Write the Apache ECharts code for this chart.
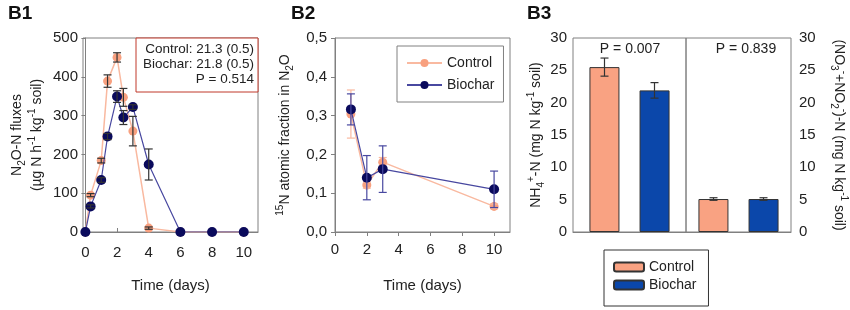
<!DOCTYPE html>
<html>
<head>
<meta charset="utf-8">
<script src="https://cdn.jsdelivr.net/npm/echarts@6/dist/echarts.min.js"></script>
<style>
  html, body { margin: 0; padding: 0; background: #fff; }
  #chart { width: 850px; height: 310px; }
</style>
</head>
<body>
<div id="chart"></div>
<script>
// B1: N2O-N fluxes over time
var fluxDays = [0, 0.33, 1, 1.4, 2, 2.4, 3, 4, 6, 8, 10];
var fluxControl = [0, 95, 184, 389, 450, 347, 260, 10, 0, 0, 0];
var fluxControlErr = [0, 4, 6, 16, 12, 23, 38, 3, 0, 0, 0];
var fluxBiochar = [0, 66, 134, 246, 349, 295, 322, 174, 0, 0, 0];
var fluxBiocharErr = [0, 4, 6, 8, 15, 18, 6, 40, 0, 0, 0];

// B2: 15N atomic fraction
var fracDays = [1, 2, 3, 10];
var fracControl = [0.304, 0.121, 0.180, 0.066];
var fracControlErr = [0.062, 0.008, 0.012, 0.006];
var fracBiochar = [0.316, 0.140, 0.162, 0.110];
var fracBiocharErr = [0.040, 0.057, 0.060, 0.047];

// B3: mineral N
var nh4 = { control: 25.5, biochar: 21.9 };
var nh4Err = { control: 1.4, biochar: 1.2 };
var no3 = { control: 5.1, biochar: 5.1 };
var no3Err = { control: 0.2, biochar: 0.2 };

var timeTicks = [0, 2, 4, 6, 8, 10];
var statsLines = ['Control: 21.3 (0.5)', 'Biochar: 21.8 (0.5)', 'P = 0.514'];

var FONT = 'Liberation Sans, Arial, sans-serif';
var ORANGE = '#F8A07F', ORANGE_LINE = '#F9B9A0';
var NAVY = '#0A0A5C', NAVY_LINE = '#4848A0';
var BAR_ORANGE = '#F9A282', BAR_BLUE = '#0B47AA';
var GRAY = '#808080';
var BAR_W = 30, BAR_GAP = 20;

var chart = echarts.init(document.getElementById('chart'));

function errData(xs, ys, es) {
  var out = [];
  xs.forEach(function (x, i) {
    if (es[i] > 0) out.push([x, ys[i] - es[i], ys[i] + es[i]]);
  });
  return out;
}

// error bar drawer, offset in px for grouped bars
function errBar(color, offset) {
  return function (params, api) {
    var x = api.value(0);
    var top = api.coord([x, api.value(2)]);
    var bot = api.coord([x, api.value(1)]);
    var cx = top[0] + (offset || 0);
    var st = { stroke: color, lineWidth: 1.2 };
    return {
      type: 'group',
      children: [
        { type: 'line', shape: { x1: cx, y1: top[1], x2: cx, y2: bot[1] }, style: st },
        { type: 'line', shape: { x1: cx - 4, y1: top[1], x2: cx + 4, y2: top[1] }, style: st },
        { type: 'line', shape: { x1: cx - 4, y1: bot[1], x2: cx + 4, y2: bot[1] }, style: st }
      ]
    };
  };
}

var labelStyle = { color: '#222', fontSize: 15, fontFamily: FONT };
var richSubSup = {
  sub: { fontSize: 10, lineHeight: 10, verticalAlign: 'bottom', fontFamily: FONT, color: '#222' },
  sup: { fontSize: 10, lineHeight: 10, verticalAlign: 'top', fontFamily: FONT, color: '#222' }
};
function nameStyle(size, lh) {
  return { color: '#222', fontSize: size, lineHeight: lh, fontFamily: FONT, rich: richSubSup };
}
var axisLine = { lineStyle: { color: GRAY } };

var grids = [
  { left: 83, top: 38, width: 175, height: 194 },
  { left: 335, top: 38, width: 175, height: 194 },
  { left: 573, top: 38, width: 113, height: 194 },
  { left: 686, top: 38, width: 109, height: 194 }
].map(function (g) {
  return Object.assign({ show: true, borderColor: GRAY, borderWidth: 1, backgroundColor: 'transparent' }, g);
});

var offset = (BAR_W + BAR_GAP) / 2;
var barGapPct = Math.round(BAR_GAP / BAR_W * 100) + '%';

var option = {
  animation: false,
  textStyle: { fontFamily: FONT },
  grid: grids,
  xAxis: [
    {
      gridIndex: 0, type: 'value', min: -0.15, max: 10.9,
      name: 'Time (days)', nameLocation: 'middle', nameGap: 45, nameTextStyle: nameStyle(15, 18),
      axisLine: axisLine, splitLine: { show: false },
      axisTick: { inside: true, length: 4, lineStyle: { color: GRAY }, customValues: timeTicks },
      axisLabel: Object.assign({ margin: 13, customValues: timeTicks }, labelStyle)
    },
    {
      gridIndex: 1, type: 'value', min: 0, max: 11,
      name: 'Time (days)', nameLocation: 'middle', nameGap: 45, nameTextStyle: nameStyle(15, 18),
      axisLine: axisLine, splitLine: { show: false },
      axisTick: { length: 4, lineStyle: { color: GRAY }, customValues: timeTicks },
      axisLabel: Object.assign({ margin: 10, customValues: timeTicks }, labelStyle)
    },
    { gridIndex: 2, type: 'category', data: ['NH4'], axisLine: axisLine, axisTick: { show: false }, axisLabel: { show: false } },
    { gridIndex: 3, type: 'category', data: ['NO3'], axisLine: axisLine, axisTick: { show: false }, axisLabel: { show: false } }
  ],
  yAxis: [
    {
      gridIndex: 0, type: 'value', min: 0, max: 500, interval: 100,
      name: 'N{sub|2}O-N fluxes\n(µg N h{sup|-1} kg{sup|-1} soil)',
      nameLocation: 'middle', nameGap: 36, nameTextStyle: nameStyle(14, 20),
      axisLine: axisLine, splitLine: { show: false },
      axisTick: { length: 4, lineStyle: { color: GRAY } },
      axisLabel: Object.assign({ margin: 5 }, labelStyle)
    },
    {
      gridIndex: 1, type: 'value', min: 0, max: 0.5, interval: 0.1,
      name: '{sup|15}N atomic fraction in N{sub|2}O',
      nameLocation: 'middle', nameGap: 40, nameTextStyle: nameStyle(14, 20),
      axisLine: axisLine, splitLine: { show: false },
      axisTick: { length: 4, lineStyle: { color: GRAY } },
      axisLabel: Object.assign({
        margin: 8,
        formatter: function (v) { return v.toFixed(1).replace('.', ','); }
      }, labelStyle)
    },
    {
      gridIndex: 2, type: 'value', min: 0, max: 30, interval: 5,
      name: 'NH{sub|4}{sup|+}-N (mg N kg{sup|-1} soil)',
      nameLocation: 'middle', nameGap: 22, nameTextStyle: nameStyle(14, 20),
      axisLine: axisLine, splitLine: { show: false },
      axisTick: { length: 4, lineStyle: { color: GRAY } },
      axisLabel: Object.assign({ margin: 6 }, labelStyle)
    },
    {
      gridIndex: 3, type: 'value', min: 0, max: 30, interval: 5, position: 'right',
      name: '(NO{sub|3}{sup|-}+NO{sub|2}{sup|-})-N (mg N kg{sup|-1} soil)',
      nameLocation: 'middle', nameGap: 38, nameRotate: -90, nameTextStyle: nameStyle(14, 20),
      axisLine: axisLine, splitLine: { show: false },
      axisTick: { length: 4, lineStyle: { color: GRAY } },
      axisLabel: Object.assign({ margin: 8 }, labelStyle)
    }
  ],
  legend: [
    {
      data: ['Control', 'Biochar'],
      orient: 'vertical', left: 397, top: 46,
      padding: [10, 9], itemGap: 8, itemWidth: 35, itemHeight: 10,
      borderColor: GRAY, borderWidth: 1,
      textStyle: { fontSize: 14, color: '#222', fontFamily: FONT }
    },
    {
      data: ['Control bars', 'Biochar bars'],
      formatter: function (n) { return n.split(' ')[0]; },
      orient: 'vertical', left: 604, top: 250,
      padding: [10, 12, 14, 9], itemGap: 4, itemWidth: 30, itemHeight: 9,
      borderColor: '#333', borderWidth: 1,
      textStyle: { fontSize: 14, color: '#222', fontFamily: FONT }
    }
  ],
  series: [
    // B1
    {
      name: 'Control', type: 'line', xAxisIndex: 0, yAxisIndex: 0,
      data: fluxDays.map(function (d, i) { return [d, fluxControl[i]]; }),
      symbol: 'circle', symbolSize: 9,
      lineStyle: { color: ORANGE_LINE, width: 1.5 }, itemStyle: { color: ORANGE }, z: 3
    },
    {
      name: 'Biochar', type: 'line', xAxisIndex: 0, yAxisIndex: 0,
      data: fluxDays.map(function (d, i) { return [d, fluxBiochar[i]]; }),
      symbol: 'circle', symbolSize: 10,
      lineStyle: { color: NAVY_LINE, width: 1.2 }, itemStyle: { color: NAVY }, z: 4
    },
    {
      type: 'custom', xAxisIndex: 0, yAxisIndex: 0, z: 6,
      renderItem: errBar('#333'), data: errData(fluxDays, fluxControl, fluxControlErr),
      encode: { x: 0, y: [1, 2] }
    },
    {
      type: 'custom', xAxisIndex: 0, yAxisIndex: 0, z: 6,
      renderItem: errBar('#333'), data: errData(fluxDays, fluxBiochar, fluxBiocharErr),
      encode: { x: 0, y: [1, 2] }
    },
    // B2
    {
      name: 'Control', type: 'line', xAxisIndex: 1, yAxisIndex: 1,
      data: fracDays.map(function (d, i) { return [d, fracControl[i]]; }),
      symbol: 'circle', symbolSize: 9,
      lineStyle: { color: ORANGE_LINE, width: 1.5 }, itemStyle: { color: ORANGE }, z: 3
    },
    {
      name: 'Biochar', type: 'line', xAxisIndex: 1, yAxisIndex: 1,
      data: fracDays.map(function (d, i) { return [d, fracBiochar[i]]; }),
      symbol: 'circle', symbolSize: 10,
      lineStyle: { color: NAVY_LINE, width: 1.2 }, itemStyle: { color: NAVY }, z: 5
    },
    {
      type: 'custom', xAxisIndex: 1, yAxisIndex: 1, z: 4,
      renderItem: errBar(ORANGE_LINE), data: errData(fracDays, fracControl, fracControlErr),
      encode: { x: 0, y: [1, 2] }
    },
    {
      type: 'custom', xAxisIndex: 1, yAxisIndex: 1, z: 6,
      renderItem: errBar(NAVY_LINE), data: errData(fracDays, fracBiochar, fracBiocharErr),
      encode: { x: 0, y: [1, 2] }
    },
    // B3 bars
    {
      name: 'Control bars', type: 'bar', xAxisIndex: 2, yAxisIndex: 2,
      data: [nh4.control], barWidth: BAR_W, barGap: barGapPct,
      itemStyle: { color: BAR_ORANGE, borderColor: '#333', borderWidth: 1 }
    },
    {
      name: 'Biochar bars', type: 'bar', xAxisIndex: 2, yAxisIndex: 2,
      data: [nh4.biochar], barWidth: BAR_W, barGap: barGapPct,
      itemStyle: { color: BAR_BLUE, borderColor: '#333', borderWidth: 1 }
    },
    {
      name: 'Control bars', type: 'bar', xAxisIndex: 3, yAxisIndex: 3,
      data: [no3.control], barWidth: BAR_W, barGap: barGapPct,
      itemStyle: { color: BAR_ORANGE, borderColor: '#333', borderWidth: 1 }
    },
    {
      name: 'Biochar bars', type: 'bar', xAxisIndex: 3, yAxisIndex: 3,
      data: [no3.biochar], barWidth: BAR_W, barGap: barGapPct,
      itemStyle: { color: BAR_BLUE, borderColor: '#333', borderWidth: 1 }
    },
    {
      type: 'custom', xAxisIndex: 2, yAxisIndex: 2, z: 6, renderItem: errBar('#333', -offset),
      data: [[0, nh4.control - nh4Err.control, nh4.control + nh4Err.control]], encode: { x: 0, y: [1, 2] }
    },
    {
      type: 'custom', xAxisIndex: 2, yAxisIndex: 2, z: 6, renderItem: errBar('#333', offset),
      data: [[0, nh4.biochar - nh4Err.biochar, nh4.biochar + nh4Err.biochar]], encode: { x: 0, y: [1, 2] }
    },
    {
      type: 'custom', xAxisIndex: 3, yAxisIndex: 3, z: 6, renderItem: errBar('#333', -offset),
      data: [[0, no3.control - no3Err.control, no3.control + no3Err.control]], encode: { x: 0, y: [1, 2] }
    },
    {
      type: 'custom', xAxisIndex: 3, yAxisIndex: 3, z: 6, renderItem: errBar('#333', offset),
      data: [[0, no3.biochar - no3Err.biochar, no3.biochar + no3Err.biochar]], encode: { x: 0, y: [1, 2] }
    }
  ],
  graphic: [
    { type: 'text', left: 8, top: 4, style: { text: 'B1', font: 'bold 19px ' + FONT, fill: '#111' } },
    { type: 'text', left: 291, top: 4, style: { text: 'B2', font: 'bold 19px ' + FONT, fill: '#111' } },
    { type: 'text', left: 527, top: 4, style: { text: 'B3', font: 'bold 19px ' + FONT, fill: '#111' } },
    {
      type: 'rect', shape: { x: 136, y: 38, width: 122, height: 54 }, z: 10,
      style: { fill: '#fff', stroke: '#C0392B', lineWidth: 1 }
    },
    {
      type: 'text', x: 254, y: 42, z: 11,
      style: { text: statsLines.join('\n'), align: 'right', lineHeight: 15, font: '13.5px ' + FONT, fill: '#222' }
    },
    { type: 'text', x: 630, y: 42, style: { text: 'P = 0.007', align: 'center', font: '14px ' + FONT, fill: '#222' } },
    { type: 'text', x: 746, y: 42, style: { text: 'P = 0.839', align: 'center', font: '14px ' + FONT, fill: '#222' } }
  ]
};

chart.setOption(option);
</script>
</body>
</html>
